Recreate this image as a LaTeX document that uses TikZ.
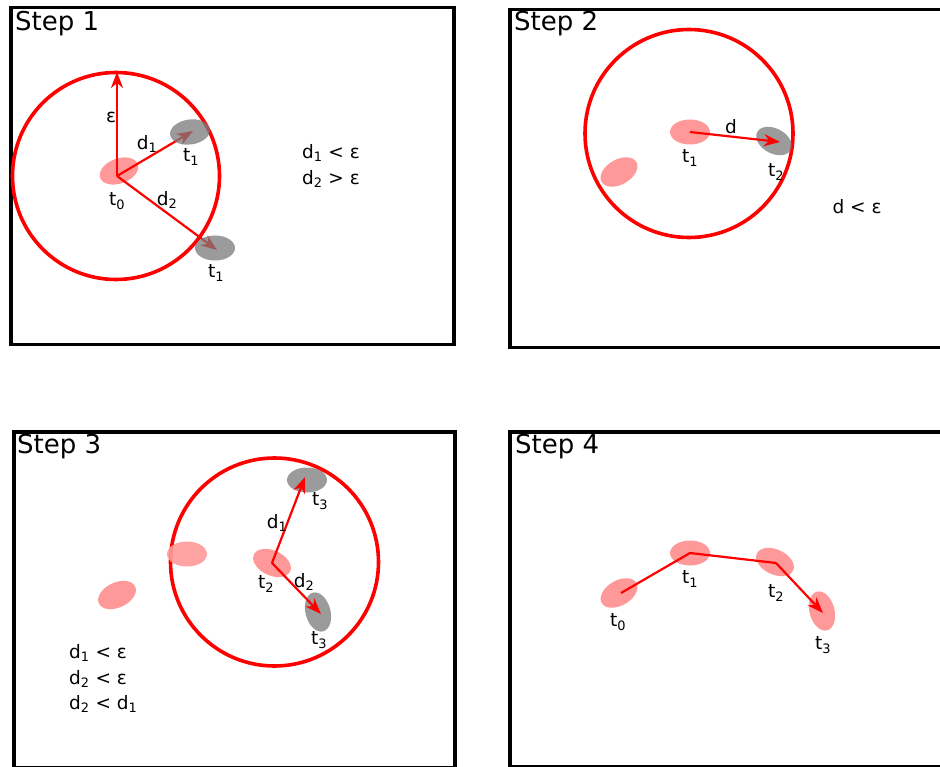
\documentclass[tikz,border=0pt]{standalone}
\usepackage{fontspec}
\setmainfont{DejaVu Sans}
\usetikzlibrary{shapes.geometric,arrows.meta}
\definecolor{blobpink}{HTML}{FF9999}
\definecolor{blobgray}{HTML}{7A7A7A}
\tikzset{
  panel/.style={draw=black, line width=3.5pt},
  title/.style={anchor=west, inner sep=0pt, font=\fontsize{26}{30}\selectfont},
  lbl/.style={inner sep=0pt, font=\fontsize{18.5}{22}\selectfont},
  blob/.style={ellipse, inner sep=0pt, minimum width=40pt, minimum height=25pt, fill=blobpink},
  gblob/.style={ellipse, inner sep=0pt, minimum width=40pt, minimum height=25pt, fill=blobgray, fill opacity=0.75},
  ring/.style={draw=red, line width=3.6pt},
  vec/.style={draw=red, line width=2.2pt, -{Stealth[length=16pt,width=12pt,inset=5pt]}},
  seg/.style={draw=red, line width=2.2pt}
}
\begin{document}
\begin{tikzpicture}[x=1pt,y=-1pt]
\useasboundingbox (0,0) rectangle (940,767);
\clip (0,0) rectangle (940,767);
% ---------- Panel 1 ----------
\node[panel, minimum width=443pt, minimum height=337pt, anchor=north west, inner sep=0pt] (p1) at (9,6) {};
\node[title] (s1) at (15,24) {Step 1};
\coordinate (c1) at (116,176);
\coordinate (o1) at (117,176);
\draw[ring] (c1) circle[radius=103.5];
\node[blob, rotate=20] (a0) at (119,171) {};
\coordinate (e1) at (117,72);
\draw[vec] (o1) -- (e1);
\draw[vec] (o1) -- (193,131) coordinate (a1tip);
\draw[vec] (o1) -- (217,250) coordinate (a2tip);
\node[gblob, rotate=8] (g1) at (190,132) {};
\node[gblob] (g2) at (215,248) {};
\node[lbl] (eps) at (111,117) {ε};
\node[lbl] (ld1) at (147,144) {d\textsubscript{1}};
\node[lbl] (ld2) at (167,200) {d\textsubscript{2}};
\node[lbl] (lt0) at (117,201) {t\textsubscript{0}};
\node[lbl] (lt1a) at (191,157) {t\textsubscript{1}};
\node[lbl] (lt1b) at (216,273) {t\textsubscript{1}};
\node[lbl] (r1a) at (331,153) {d\textsubscript{1} < ε};
\node[lbl] (r1b) at (331,179) {d\textsubscript{2} > ε};
% ---------- Panel 2 ----------
\node[panel, minimum width=450pt, minimum height=338pt, anchor=north west, inner sep=0pt] (p2) at (508,8) {};
\node[title] (s2) at (514,24) {Step 2};
\coordinate (c2) at (689,133.5);
\draw[ring] (c2) circle[radius=104];
\node[blob, rotate=30] (b2) at (619,172) {};
\node[blob] (b1) at (690,132) {};
\node[gblob, rotate=-28, minimum width=38pt] (g3) at (774,141) {};
\draw[vec] (b1.center) -- (780,142);
\node[lbl] (ld) at (731,127) {d};
\node[lbl] (lt1c) at (690,158) {t\textsubscript{1}};
\node[lbl] (lt2a) at (776,172) {t\textsubscript{2}};
\node[lbl] (r2) at (857,207) {d < ε};
% ---------- Panel 3 ----------
\node[panel, minimum width=441pt, minimum height=336pt, anchor=north west, inner sep=0pt] (p3) at (12,430) {};
\node[title] (s3) at (17,447) {Step 3};
\coordinate (c3) at (274.5,562);
\draw[ring] (c3) circle[radius=104];
\node[blob, rotate=25] (b3) at (117,595) {};
\node[blob, opacity=0.9] (b4) at (187,554) {};
\node[blob, rotate=-25] (b5) at (272,563) {};
\node[gblob] (g4) at (307,480) {};
\node[gblob, minimum width=25pt, minimum height=40pt, rotate=15] (g5) at (318,612) {};
\draw[vec] (b5.center) -- (305,477);
\draw[vec] (b5.center) -- (321,614);
\node[lbl] (ld1b) at (277,523) {d\textsubscript{1}};
\node[lbl] (ld2b) at (304,582) {d\textsubscript{2}};
\node[lbl] (lt2b) at (266,584) {t\textsubscript{2}};
\node[lbl] (lt3a) at (320,501) {t\textsubscript{3}};
\node[lbl] (lt3b) at (319,640) {t\textsubscript{3}};
\node[lbl, anchor=west] (r3a) at (69,653) {d\textsubscript{1} < ε};
\node[lbl, anchor=west] (r3b) at (69,679) {d\textsubscript{2} < ε};
\node[lbl, anchor=west] (r3c) at (69,704) {d\textsubscript{2} < d\textsubscript{1}};
% ---------- Panel 4 ----------
\node[panel, minimum width=450pt, minimum height=335pt, anchor=north west, inner sep=0pt] (p4) at (508,430) {};
\node[title] (s4) at (515,447) {Step 4};
\node[blob, rotate=30] (q0) at (619,593) {};
\node[blob] (q1) at (690,553) {};
\node[blob, rotate=-25] (q2) at (775,562) {};
\node[blob, minimum width=25pt, minimum height=40pt, rotate=15] (q3) at (822,611) {};
\draw[seg] (621,593) -- (q1.center) -- (776,563);
\draw[vec] (776,563) -- (823,613);
\node[lbl] (lq0) at (618,622) {t\textsubscript{0}};
\node[lbl] (lq1) at (690,579) {t\textsubscript{1}};
\node[lbl] (lq2) at (776,593) {t\textsubscript{2}};
\node[lbl] (lq3) at (823,645) {t\textsubscript{3}};
\end{tikzpicture}
\end{document}
